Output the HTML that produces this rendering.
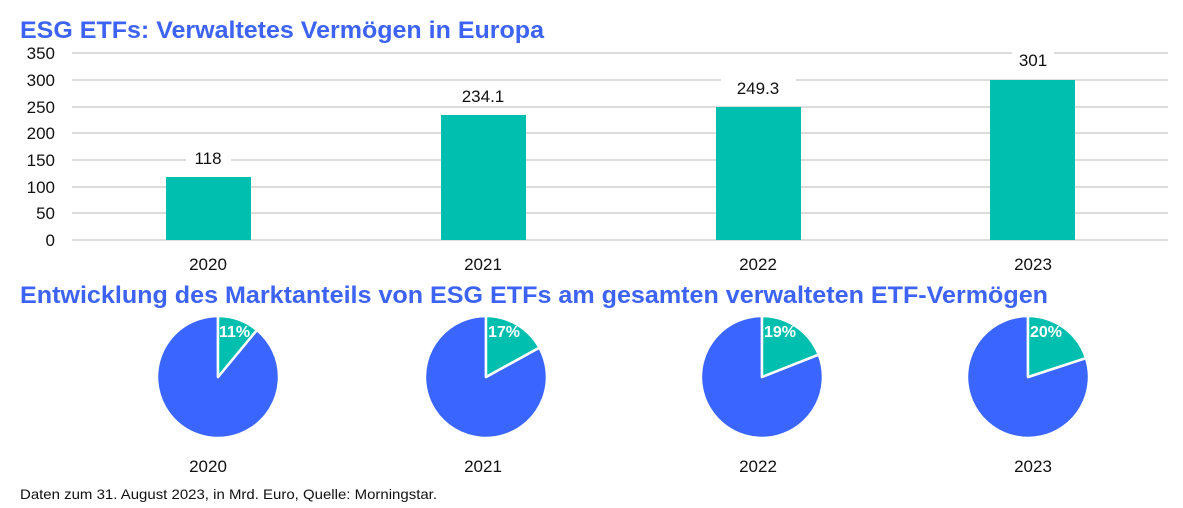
<!DOCTYPE html>
<html><head><meta charset="utf-8"><style>
body{margin:0;background:#fff;}
svg{display:block;font-family:"Liberation Sans",Arial,sans-serif;}
</style></head><body>
<svg width="1183" height="508" viewBox="0 0 1183 508">
<text x="20" y="38" font-size="24" font-weight="bold" fill="#3d63f5" textLength="524" lengthAdjust="spacingAndGlyphs">ESG ETFs: Verwaltetes Vermögen in Europa</text>
<g stroke="#dcdcdc" stroke-width="2">
<line x1="72" x2="1168" y1="53" y2="53"/><line x1="72" x2="1168" y1="80" y2="80"/>
<line x1="72" x2="1168" y1="107" y2="107"/><line x1="72" x2="1168" y1="133" y2="133"/>
<line x1="72" x2="1168" y1="160" y2="160"/><line x1="72" x2="1168" y1="187" y2="187"/>
<line x1="72" x2="1168" y1="213" y2="213"/><line x1="72" x2="1168" y1="240" y2="240"/>
</g>
<g font-size="17" fill="#111" text-anchor="end">
<text x="55" y="59">350</text><text x="55" y="86">300</text><text x="55" y="113">250</text>
<text x="55" y="139">200</text><text x="55" y="166">150</text><text x="55" y="193">100</text>
<text x="55" y="219">50</text><text x="55" y="246">0</text>
</g>
<g fill="#00bfae">
<rect x="166" y="177" width="85" height="63"/><rect x="441" y="115" width="85" height="125"/>
<rect x="716" y="107" width="85" height="133"/><rect x="990" y="80" width="85" height="160"/>
</g>
<g fill="#fff"><rect x="186" y="148" width="45" height="20"/><rect x="446" y="86" width="75" height="20"/>
<rect x="721" y="78" width="75" height="20"/><rect x="1012" y="50" width="42" height="20"/></g>
<g font-size="17" fill="#111" text-anchor="middle">
<text x="208" y="164">118</text><text x="483" y="102">234.1</text><text x="758" y="94">249.3</text><text x="1033" y="66">301</text>
<text x="208" y="270">2020</text><text x="483" y="270">2021</text><text x="758" y="270">2022</text><text x="1033" y="270">2023</text>
<text x="208" y="472">2020</text><text x="483" y="472">2021</text><text x="758" y="472">2022</text><text x="1033" y="472">2023</text>
</g>
<text x="20" y="303" font-size="24" font-weight="bold" fill="#3d63f5" textLength="1028" lengthAdjust="spacingAndGlyphs">Entwicklung des Marktanteils von ESG ETFs am gesamten verwalteten ETF-Vermögen</text>
<g stroke="#fff" stroke-width="2.5" stroke-linejoin="round">
<path d="M218 377 L218 316 A61 61 0 1 0 256.9 330 Z" fill="#3a66ff"/>
<path d="M218 377 L218 316 A61 61 0 0 1 256.9 330 Z" fill="#00bfae"/>
<path d="M486 377 L486 316 A61 61 0 1 0 539.4 347.6 Z" fill="#3a66ff"/>
<path d="M486 377 L486 316 A61 61 0 0 1 539.4 347.6 Z" fill="#00bfae"/>
<path d="M762 377 L762 316 A61 61 0 1 0 818.7 354.6 Z" fill="#3a66ff"/>
<path d="M762 377 L762 316 A61 61 0 0 1 818.7 354.6 Z" fill="#00bfae"/>
<path d="M1028 377 L1028 316 A61 61 0 1 0 1086 358.1 Z" fill="#3a66ff"/>
<path d="M1028 377 L1028 316 A61 61 0 0 1 1086 358.1 Z" fill="#00bfae"/>
</g>
<g font-size="16" font-weight="bold" fill="#fff">
<text x="219" y="337">11%</text><text x="488" y="337">17%</text><text x="764" y="337">19%</text><text x="1030" y="337">20%</text>
</g>
<text x="20" y="499" font-size="14" fill="#111" textLength="417" lengthAdjust="spacingAndGlyphs">Daten zum 31. August 2023, in Mrd. Euro, Quelle: Morningstar.</text>
</svg>
</body></html>
